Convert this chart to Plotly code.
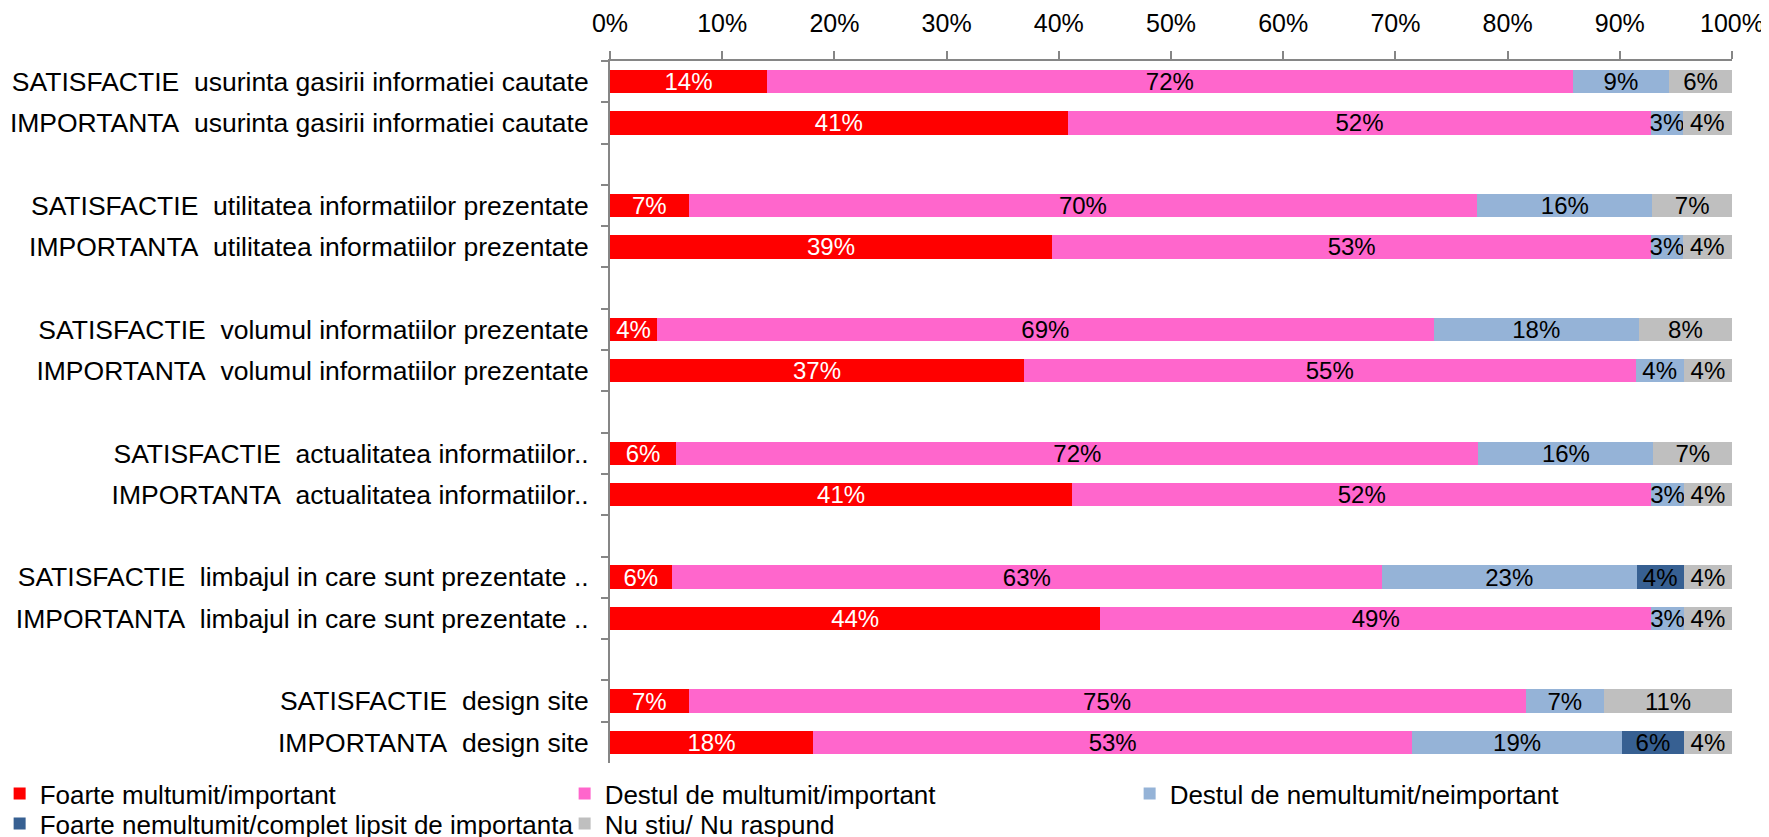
import plotly.graph_objects as go

categories = [
    "SATISFACTIE\u00a0 usurinta gasirii informatiei cautate",
    "IMPORTANTA\u00a0 usurinta gasirii informatiei cautate",
    "SATISFACTIE\u00a0 utilitatea informatiilor prezentate",
    "IMPORTANTA\u00a0 utilitatea informatiilor prezentate",
    "SATISFACTIE\u00a0 volumul informatiilor prezentate",
    "IMPORTANTA\u00a0 volumul informatiilor prezentate",
    "SATISFACTIE\u00a0 actualitatea informatiilor..",
    "IMPORTANTA\u00a0 actualitatea informatiilor..",
    "SATISFACTIE\u00a0 limbajul in care sunt prezentate ..",
    "IMPORTANTA\u00a0 limbajul in care sunt prezentate ..",
    "SATISFACTIE\u00a0 design site",
    "IMPORTANTA\u00a0 design site",
]

foarte_multumit = [14.0, 40.8, 7.0, 39.4, 4.2, 36.9, 5.9, 41.2, 5.5, 43.7, 7.0, 18.1]
destul_multumit = [71.8, 52.0, 70.3, 53.4, 69.2, 54.5, 71.5, 51.6, 63.3, 49.1, 74.6, 53.4]
destul_nemultumit = [8.6, 2.8, 15.6, 2.8, 18.3, 4.3, 15.6, 2.9, 22.7, 2.9, 7.0, 18.7]
foarte_nemultumit = [None, None, None, None, None, None, None, None, 4.2, None, None, 5.5]
nu_stiu = [5.6, 4.4, 7.1, 4.4, 8.3, 4.3, 7.0, 4.3, 4.3, 4.3, 11.4, 4.3]

series_names = [
    "Foarte multumit/important",
    "Destul de multumit/important",
    "Destul de nemultumit/neimportant",
    "Foarte nemultumit/complet lipsit de importanta",
    "Nu stiu/ Nu raspund",
]
series_colors = ["#FF0000", "#FF66CC", "#95B3D7", "#376092", "#BFBFBF"]
text_colors = ["white", "black", "black", "black", "black"]
legend_rows = ["legend", "legend", "legend", "legend2", "legend2"]
tick_values = list(range(0, 101, 10))
tick_labels = [f"{v}%" for v in tick_values]

FONT = "Arial, 'Liberation Sans', sans-serif"

# category axis with an empty slot after every pair of rows
y_cats = []
index_map = []
for i, c in enumerate(categories):
    y_cats.append(c)
    index_map.append(i)
    if i % 2 == 1 and i < len(categories) - 1:
        y_cats.append(" " * (i // 2 + 1))
        index_map.append(None)


def expand(vals):
    return [vals[j] if j is not None else None for j in index_map]


fig = go.Figure()
all_series = [foarte_multumit, destul_multumit, destul_nemultumit, foarte_nemultumit, nu_stiu]
for name, vals, col, tcol, lg in zip(series_names, all_series, series_colors, text_colors, legend_rows):
    fig.add_trace(go.Bar(
        name=name,
        y=y_cats,
        x=expand(vals),
        orientation="h",
        marker=dict(color=col, line=dict(width=0)),
        texttemplate="%{x:.0f}%",
        textposition="inside",
        insidetextanchor="middle",
        constraintext="none",
        textfont=dict(family=FONT, size=24, color=tcol),
        hoverinfo="skip",
        legend=lg,
    ))

legend_common = dict(
    orientation="h",
    x=-0.544,
    xanchor="left",
    yanchor="top",
    entrywidth=520,
    entrywidthmode="pixels",
    font=dict(family=FONT, size=26, color="black"),
    traceorder="normal",
    itemclick=False,
    bgcolor="rgba(0,0,0,0)",
)

fig.update_layout(
    barmode="stack",
    bargap=0.43,
    width=1761,
    height=837,
    paper_bgcolor="white",
    plot_bgcolor="white",
    margin=dict(l=602, r=37, t=53, b=82, autoexpand=False),
    font=dict(family=FONT, size=24, color="black"),
    showlegend=True,
    legend=dict(y=-0.0100, **legend_common),
    legend2=dict(y=-0.0527, **legend_common),
)

fig.update_xaxes(
    side="top",
    range=[0, 100],
    tickvals=tick_values,
    ticktext=tick_labels,
    showgrid=False,
    zeroline=False,
    showline=True,
    linecolor="#868686",
    linewidth=2,
    ticks="outside",
    ticklen=8,
    tickcolor="#868686",
    tickwidth=1.5,
    ticklabelstandoff=9,
    tickfont=dict(family=FONT, size=25, color="black"),
)

fig.update_yaxes(
    type="category",
    categoryorder="array",
    categoryarray=y_cats,
    autorange="reversed",
    showgrid=False,
    showline=True,
    linecolor="#868686",
    linewidth=2,
    ticks="outside",
    tickson="boundaries",
    ticklen=7,
    tickcolor="#868686",
    tickwidth=1.5,
    ticklabelstandoff=14,
    tickfont=dict(family=FONT, size=26.5, color="black"),
)

fig.write_html("out.html")
